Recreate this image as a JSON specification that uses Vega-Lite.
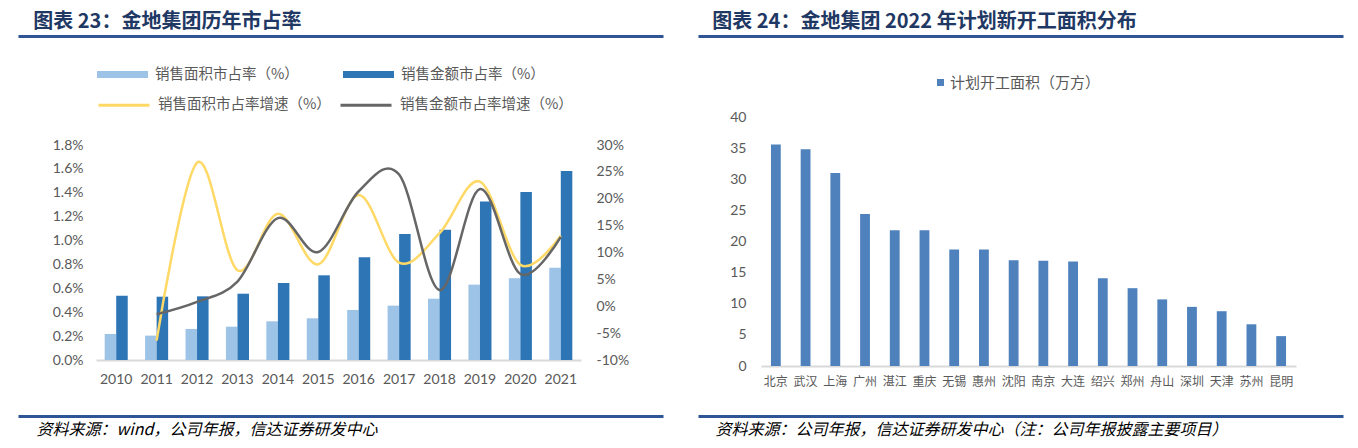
{
  "$schema": "https://vega.github.io/schema/vega-lite/v6.json",
  "background": "white",
  "padding": {"left": 15, "top": 12, "right": 0, "bottom": 10},
  "spacing": 665,
  "bounds": "flush",
  "config": {
    "view": {"stroke": null},
    "font": "Noto Sans CJK SC",
    "axis": {"labelFont": "Lato", "labelFontSize": 14, "labelColor": "#595959", "grid": false, "ticks": false},
    "legend": {"padding": 0, "offset": 0, "labelFont": "Noto Sans CJK SC", "labelColor": "#595959", "labelLimit": 400, "title": null},
    "title": {"anchor": "start", "frame": "bounds", "offset": 4, "fontSize": 20, "fontWeight": "bold", "color": "#1F3864", "font": "Noto Sans CJK SC"}
  },
  "datasets": {
    "share": [
      {"year": "2010", "series": "销售面积市占率（%）", "value": 0.00218},
      {"year": "2010", "series": "销售金额市占率（%）", "value": 0.00538},
      {"year": "2011", "series": "销售面积市占率（%）", "value": 0.00204},
      {"year": "2011", "series": "销售金额市占率（%）", "value": 0.00530},
      {"year": "2012", "series": "销售面积市占率（%）", "value": 0.00260},
      {"year": "2012", "series": "销售金额市占率（%）", "value": 0.00533},
      {"year": "2013", "series": "销售面积市占率（%）", "value": 0.00279},
      {"year": "2013", "series": "销售金额市占率（%）", "value": 0.00555},
      {"year": "2014", "series": "销售面积市占率（%）", "value": 0.00324},
      {"year": "2014", "series": "销售金额市占率（%）", "value": 0.00645},
      {"year": "2015", "series": "销售面积市占率（%）", "value": 0.00349},
      {"year": "2015", "series": "销售金额市占率（%）", "value": 0.00709},
      {"year": "2016", "series": "销售面积市占率（%）", "value": 0.00419},
      {"year": "2016", "series": "销售金额市占率（%）", "value": 0.00860},
      {"year": "2017", "series": "销售面积市占率（%）", "value": 0.00455},
      {"year": "2017", "series": "销售金额市占率（%）", "value": 0.01055},
      {"year": "2018", "series": "销售面积市占率（%）", "value": 0.00513},
      {"year": "2018", "series": "销售金额市占率（%）", "value": 0.01091},
      {"year": "2019", "series": "销售面积市占率（%）", "value": 0.00631},
      {"year": "2019", "series": "销售金额市占率（%）", "value": 0.01326},
      {"year": "2020", "series": "销售面积市占率（%）", "value": 0.00684},
      {"year": "2020", "series": "销售金额市占率（%）", "value": 0.01407},
      {"year": "2021", "series": "销售面积市占率（%）", "value": 0.00773},
      {"year": "2021", "series": "销售金额市占率（%）", "value": 0.01583}
    ],
    "growth": [
      {"year": "2011", "series": "销售面积市占率增速（%）", "value": -0.064},
      {"year": "2012", "series": "销售面积市占率增速（%）", "value": 0.267},
      {"year": "2013", "series": "销售面积市占率增速（%）", "value": 0.067},
      {"year": "2014", "series": "销售面积市占率增速（%）", "value": 0.172},
      {"year": "2015", "series": "销售面积市占率增速（%）", "value": 0.078},
      {"year": "2016", "series": "销售面积市占率增速（%）", "value": 0.207},
      {"year": "2017", "series": "销售面积市占率增速（%）", "value": 0.081},
      {"year": "2018", "series": "销售面积市占率增速（%）", "value": 0.136},
      {"year": "2019", "series": "销售面积市占率增速（%）", "value": 0.232},
      {"year": "2020", "series": "销售面积市占率增速（%）", "value": 0.077},
      {"year": "2021", "series": "销售面积市占率增速（%）", "value": 0.131},
      {"year": "2011", "series": "销售金额市占率增速（%）", "value": -0.015},
      {"year": "2012", "series": "销售金额市占率增速（%）", "value": 0.008},
      {"year": "2013", "series": "销售金额市占率增速（%）", "value": 0.046},
      {"year": "2014", "series": "销售金额市占率增速（%）", "value": 0.164},
      {"year": "2015", "series": "销售金额市占率增速（%）", "value": 0.101},
      {"year": "2016", "series": "销售金额市占率增速（%）", "value": 0.214},
      {"year": "2017", "series": "销售金额市占率增速（%）", "value": 0.245},
      {"year": "2018", "series": "销售金额市占率增速（%）", "value": 0.030},
      {"year": "2019", "series": "销售金额市占率增速（%）", "value": 0.218},
      {"year": "2020", "series": "销售金额市占率增速（%）", "value": 0.060},
      {"year": "2021", "series": "销售金额市占率增速（%）", "value": 0.129}
    ],
    "cities": [
      {"city": "北京", "area": 35.6},
      {"city": "武汉", "area": 34.8},
      {"city": "上海", "area": 31.0},
      {"city": "广州", "area": 24.4},
      {"city": "湛江", "area": 21.8},
      {"city": "重庆", "area": 21.8},
      {"city": "无锡", "area": 18.7},
      {"city": "惠州", "area": 18.7},
      {"city": "沈阳", "area": 17.0},
      {"city": "南京", "area": 16.9},
      {"city": "大连", "area": 16.8},
      {"city": "绍兴", "area": 14.1},
      {"city": "郑州", "area": 12.5},
      {"city": "舟山", "area": 10.7},
      {"city": "深圳", "area": 9.5},
      {"city": "天津", "area": 8.8},
      {"city": "苏州", "area": 6.7},
      {"city": "昆明", "area": 4.8}
    ],
    "frame": [{"d": 0}, {"d": 1}]
  },
  "hconcat": [
    {
      "spacing": 55,
      "bounds": "flush",
      "resolve": {"scale": {"fill": "independent", "stroke": "independent"}},
      "vconcat": [
        {
          "title": {"text": "图表 23：金地集团历年市占率", "dx": 18},
          "width": 485,
          "height": 54,
          "data": {"name": "frame"},
          "mark": {"type": "point", "opacity": 0},
          "encoding": {
            "x": {"field": "d", "type": "quantitative", "scale": {"domain": [0, 1], "range": [-78, 567], "nice": false, "zero": false},
                  "axis": {"orient": "top", "labels": false, "title": null, "domainColor": "#2F5597", "domainWidth": 3}}
          }
        },
        {
          "width": 485,
          "height": 215,
          "layer": [
            {
              "data": {"name": "share"},
              "mark": {"type": "bar"},
              "encoding": {
                "x": {"field": "year", "type": "ordinal", "scale": {"paddingInner": 0.43, "paddingOuter": 0.215},
                      "axis": {"orient": "bottom", "title": null, "labelAngle": 0, "domainColor": "#D9D9D9", "domainWidth": 2, "labelPadding": 12}},
                "xOffset": {"field": "series", "type": "nominal", "scale": {"domain": ["销售面积市占率（%）", "销售金额市占率（%）"], "paddingInner": 0, "paddingOuter": 0}},
                "y": {"field": "value", "type": "quantitative", "scale": {"domain": [0, 0.018], "nice": false},
                      "axis": {"orient": "left", "title": null, "domain": false, "values": [0, 0.002, 0.004, 0.006, 0.008, 0.01, 0.012, 0.014, 0.016, 0.018], "format": ".1%", "labelPadding": 13}},
                "fill": {"field": "series", "type": "nominal",
                         "scale": {"domain": ["销售面积市占率（%）", "销售金额市占率（%）"], "range": ["#9DC3E6", "#2E75B6"]},
                         "legend": {"orient": "none", "legendX": 1, "legendY": -96, "direction": "horizontal", "columns": 2, "symbolType": "M-1,-0.14H1V0.14H-1Z", "symbolSize": 2601, "symbolStrokeWidth": 0, "labelFontSize": 14.5, "labelOffset": 7, "columnPadding": 44}}
              }
            },
            {
              "data": {"name": "growth"},
              "mark": {"type": "line", "interpolate": "cardinal", "strokeWidth": 2.5},
              "encoding": {
                "x": {"field": "year", "type": "ordinal", "bandPosition": 0.5},
                "y": {"field": "value", "type": "quantitative", "scale": {"domain": [-0.1, 0.3], "nice": false},
                      "axis": {"orient": "right", "title": null, "domain": false, "values": [-0.1, -0.05, 0, 0.05, 0.1, 0.15, 0.2, 0.25, 0.3], "labelExpr": "replace(format(datum.value, '.0%'), '−', '-')", "labelPadding": 15}},
                "stroke": {"field": "series", "type": "nominal",
                           "scale": {"domain": ["销售面积市占率增速（%）", "销售金额市占率增速（%）"], "range": ["#FFD966", "#666666"]},
                           "legend": {"orient": "none", "legendX": 1, "legendY": -67, "direction": "horizontal", "columns": 2, "symbolType": "stroke", "symbolSize": 2601, "symbolStrokeWidth": 3, "labelFontSize": 14.5, "labelOffset": 7, "columnPadding": 3}}
              }
            }
          ],
          "resolve": {"scale": {"y": "independent"}}
        },
        {
          "width": 485,
          "height": 1,
          "data": {"name": "frame"},
          "mark": {"type": "point", "opacity": 0},
          "encoding": {
            "x": {"field": "d", "type": "quantitative", "scale": {"domain": [0, 1], "range": [-78, 567], "nice": false, "zero": false},
                  "axis": {"orient": "bottom", "labels": false, "domainColor": "#2F5597", "domainWidth": 3,
                           "title": "资料来源：wind，公司年报，信达证券研发中心", "titleFont": "Noto Sans CJK SC", "titleFontSize": 16, "titleFontStyle": "italic", "titleFontWeight": "normal", "titleColor": "#000000", "titleAlign": "left", "titleAnchor": "start", "titleX": -60, "titleBaseline": "top", "titlePadding": 5}}
          }
        }
      ]
    },
    {
      "spacing": 49,
      "bounds": "flush",
      "resolve": {"scale": {"fill": "independent", "stroke": "independent"}},
      "vconcat": [
        {
          "title": {"text": "图表 24：金地集团 2022 年计划新开工面积分布", "dx": 17},
          "width": 535,
          "height": 32,
          "data": {"name": "frame"},
          "mark": {"type": "point", "opacity": 0},
          "encoding": {
            "x": {"field": "d", "type": "quantitative", "scale": {"domain": [0, 1], "range": [-63, 582], "nice": false, "zero": false},
                  "axis": {"orient": "top", "labels": false, "title": null, "domainColor": "#2F5597", "domainWidth": 3}}
          }
        },
        {
          "width": 535,
          "height": 249,
          "data": {"name": "cities"},
          "mark": {"type": "bar"},
          "encoding": {
            "x": {"field": "city", "type": "nominal", "sort": null, "scale": {"paddingInner": 0.67, "paddingOuter": 0.335},
                  "axis": {"orient": "bottom", "title": null, "labelAngle": 0, "domainColor": "#D9D9D9", "domainWidth": 2, "labelFont": "Noto Sans CJK SC", "labelFontSize": 12, "labelPadding": 10}},
            "y": {"field": "area", "type": "quantitative", "scale": {"domain": [0, 40], "nice": false},
                  "axis": {"orient": "left", "title": null, "domain": false, "values": [0, 5, 10, 15, 20, 25, 30, 35, 40], "labelPadding": 15}},
            "fill": {"datum": "计划开工面积（万方）", "type": "nominal", "scale": {"range": ["#4F81BD"]},
                     "legend": {"orient": "none", "legendX": 172, "legendY": -42, "symbolType": "square", "symbolSize": 49, "labelFontSize": 15, "labelOffset": 2}}
          }
        },
        {
          "width": 535,
          "height": 1,
          "data": {"name": "frame"},
          "mark": {"type": "point", "opacity": 0},
          "encoding": {
            "x": {"field": "d", "type": "quantitative", "scale": {"domain": [0, 1], "range": [-63, 582], "nice": false, "zero": false},
                  "axis": {"orient": "bottom", "labels": false, "domainColor": "#2F5597", "domainWidth": 3,
                           "title": "资料来源：公司年报，信达证券研发中心（注：公司年报披露主要项目）", "titleFont": "Noto Sans CJK SC", "titleFontSize": 16, "titleFontStyle": "italic", "titleFontWeight": "normal", "titleColor": "#000000", "titleAlign": "left", "titleAnchor": "start", "titleX": -46, "titleBaseline": "top", "titlePadding": 5}}
          }
        }
      ]
    }
  ]
}
